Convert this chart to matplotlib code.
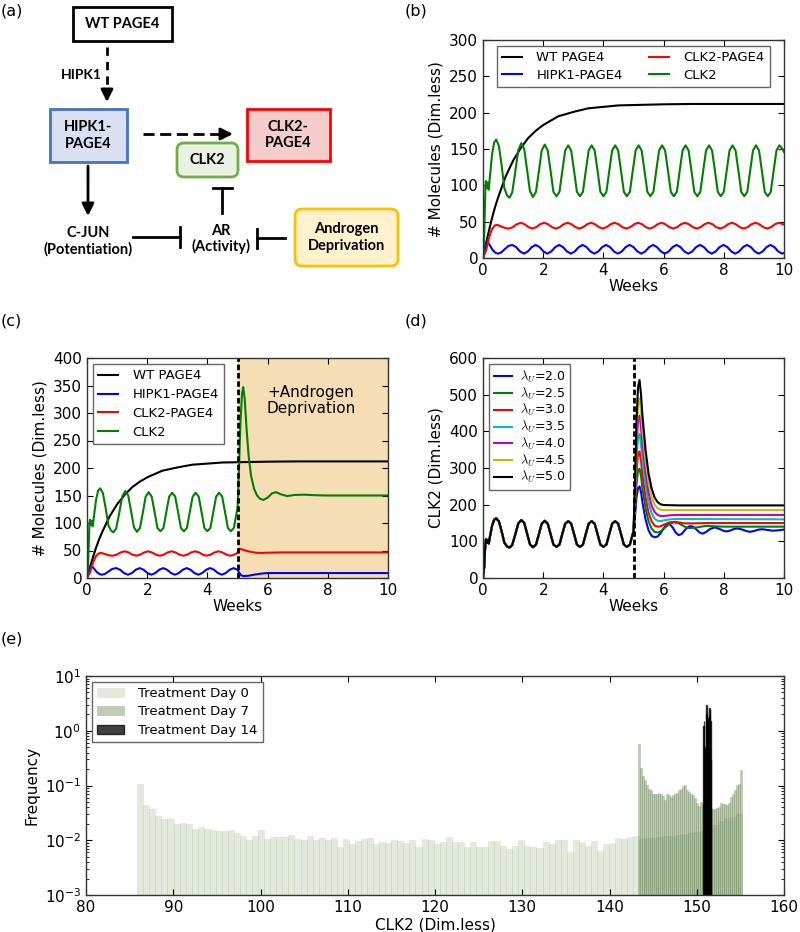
import numpy as np
import matplotlib
matplotlib.use("Agg")
import matplotlib.pyplot as plt
from matplotlib.patches import Rectangle, FancyBboxPatch

# ---------------- time courses (weeks) ----------------
# 0-5 weeks, before treatment (same run in b, c, d)
t_wt_pre = [0, 0.1, 0.2, 0.3, 0.4, 0.5, 0.75, 1.0, 1.25, 1.5, 1.75, 2.0, 2.5, 3.0, 3.5, 4.0, 4.5, 5.0]
wt_pre = [0, 20, 38, 55, 70, 83, 112, 134, 151, 165, 175, 183, 195, 201, 206, 208, 210, 210.5]

t_hipk1_pre = [0, 0.05, 0.1, 0.14, 0.22, 0.32, 0.42, 0.5, 0.6, 0.72, 0.84, 0.97,
               1.10, 1.23, 1.36, 1.49, 1.62, 1.75, 1.88, 2.01, 2.14, 2.27, 2.40, 2.53,
               2.66, 2.79, 2.92, 3.05, 3.18, 3.31, 3.44, 3.57, 3.70, 3.83, 3.96, 4.09,
               4.22, 4.35, 4.48, 4.61, 4.74, 4.87, 5.0]
hipk1_pre = [0, 13, 21, 23, 18, 11, 7, 6, 7.5, 12, 16.5, 18,
             15, 9, 6, 9, 15, 18, 15, 9, 6, 9, 15, 18,
             15, 9, 6, 9, 15, 18, 15, 9, 6, 9, 15, 18,
             15, 9, 6, 9, 15, 18, 15]

t_cp_pre = [0, 0.1, 0.2, 0.3, 0.4, 0.48, 0.6, 0.75, 0.86, 0.99, 1.12,
            1.25, 1.38, 1.51, 1.64, 1.77, 1.90, 2.03, 2.16, 2.29, 2.42, 2.55, 2.68,
            2.81, 2.94, 3.07, 3.20, 3.33, 3.46, 3.59, 3.72, 3.85, 3.98, 4.11, 4.24,
            4.37, 4.50, 4.63, 4.76, 4.89, 5.0]
cp_pre = [0, 10, 28, 40, 45, 45.5, 43.5, 41, 40.5, 42.5, 46.5,
          48.5, 46.5, 42.5, 40.5, 42.5, 46.5, 48.5, 46.5, 42.5, 40.5, 42.5, 46.5,
          48.5, 46.5, 42.5, 40.5, 42.5, 46.5, 48.5, 46.5, 42.5, 40.5, 42.5, 46.5,
          48.5, 46.5, 42.5, 40.5, 42.5, 45.5]

t_clk2_pre = [0, 0.04, 0.08, 0.1, 0.13, 0.16, 0.19, 0.23, 0.3, 0.37, 0.44, 0.53, 0.62, 0.71, 0.8, 0.88, 0.97, 1.07, 1.17,
              1.27, 1.37, 1.465, 1.56, 1.66, 1.76, 1.855, 1.95,
              2.05, 2.15, 2.245, 2.34, 2.44, 2.54, 2.635, 2.73,
              2.83, 2.93, 3.025, 3.12, 3.22, 3.32, 3.415, 3.51,
              3.61, 3.71, 3.805, 3.90, 4.00, 4.10, 4.195, 4.29,
              4.39, 4.49, 4.585, 4.68, 4.78, 4.88, 4.975, 5.0]
clk2_pre = [0, 30, 98, 106, 96, 104, 94, 112, 142, 159, 163, 154, 127, 96, 86, 83, 90, 118, 148,
            158, 150, 121, 92, 84, 91, 119, 148,
            156, 148, 120, 91, 85, 91, 120, 148,
            155, 148, 120, 91, 85, 91, 120, 148,
            155, 148, 120, 91, 85, 91, 120, 148,
            155, 148, 120, 91, 85, 91, 120, 127]

# 5-10 weeks, no treatment (b)
t_wt_b = [6, 7, 10]
wt_b = [211.5, 212, 212]
t_hipk1_b = [5.13, 5.26, 5.39, 5.52, 5.65, 5.78, 5.91, 6.04, 6.17, 6.30, 6.43, 6.56, 6.69,
             6.82, 6.95, 7.08, 7.21, 7.34, 7.47, 7.60, 7.73, 7.86, 7.99, 8.12, 8.25, 8.38,
             8.51, 8.64, 8.77, 8.90, 9.03, 9.16, 9.29, 9.42, 9.55, 9.68, 9.81, 9.94, 10.0]
hipk1_b = [9, 6, 9, 15, 18, 15, 9, 6, 9, 15, 18, 15, 9,
           6, 9, 15, 18, 15, 9, 6, 9, 15, 18, 15, 9, 6,
           9, 15, 18, 15, 9, 6, 9, 15, 18, 15, 9, 6, 7]
t_cp_b = [5.02, 5.15, 5.28, 5.41, 5.54, 5.67, 5.80, 5.93, 6.06, 6.19, 6.32, 6.45, 6.58, 6.71,
          6.84, 6.97, 7.10, 7.23, 7.36, 7.49, 7.62, 7.75, 7.88, 8.01, 8.14, 8.27, 8.40, 8.53,
          8.66, 8.79, 8.92, 9.05, 9.18, 9.31, 9.44, 9.57, 9.70, 9.83, 9.96, 10.0]
cp_b = [46.5, 48.5, 46.5, 42.5, 40.5, 42.5, 46.5, 48.5, 46.5, 42.5, 40.5, 42.5, 46.5, 48.5,
        46.5, 42.5, 40.5, 42.5, 46.5, 48.5, 46.5, 42.5, 40.5, 42.5, 46.5, 48.5, 46.5, 42.5,
        40.5, 42.5, 46.5, 48.5, 46.5, 42.5, 40.5, 42.5, 46.5, 48.5, 46.5, 46]
t_clk2_b = [5.07, 5.17, 5.27, 5.365, 5.46, 5.56, 5.66, 5.755, 5.85,
            5.95, 6.05, 6.145, 6.24, 6.34, 6.44, 6.535, 6.63,
            6.73, 6.83, 6.925, 7.02, 7.12, 7.22, 7.315, 7.41,
            7.51, 7.61, 7.705, 7.80, 7.90, 8.00, 8.095, 8.19,
            8.29, 8.39, 8.485, 8.58, 8.68, 8.78, 8.875, 8.97,
            9.07, 9.17, 9.265, 9.36, 9.46, 9.56, 9.655, 9.75,
            9.85, 9.95, 10.0]
clk2_b = [148, 155, 148, 120, 91, 85, 91, 120, 148,
          155, 148, 120, 91, 85, 91, 120, 148,
          155, 148, 120, 91, 85, 91, 120, 148,
          155, 148, 120, 91, 85, 91, 120, 148,
          155, 148, 120, 91, 85, 91, 120, 148,
          155, 148, 120, 91, 85, 91, 120, 148,
          155, 150, 146]

# 5-10 weeks, androgen deprivation (c)
t_hipk1_c = [5.05, 5.12, 5.2, 5.35, 5.55, 5.8, 6.0, 6.5, 10.0]
hipk1_c = [10, 5, 3.5, 4, 6, 8, 9, 9, 9]
t_cp_c = [5.08, 5.2, 5.4, 5.6, 5.8, 6.0, 6.5, 10.0]
cp_c = [53, 51, 48, 46, 45.5, 46, 46.5, 46.5]
t_clk2_c = [5.05, 5.1, 5.15, 5.19, 5.24, 5.3, 5.37, 5.45, 5.55, 5.65, 5.75, 5.86,
            6.0, 6.15, 6.28, 6.45, 6.65, 6.9, 7.2, 7.6, 8.0, 10.0]
clk2_c = [200, 285, 335, 347, 325, 272, 222, 186, 162, 150, 144, 142,
          146, 154, 156, 152, 149, 151, 151.5, 150.5, 150, 150]

# CLK2 after deprivation for several lambda_U (d)
lam_labels = ['2.0', '2.5', '3.0', '3.5', '4.0', '4.5', '5.0']
lam_colors = ['b', 'g', 'r', 'c', 'm', 'y', 'k']
t_lam_early = [5.05, 5.1, 5.15, 5.2, 5.25, 5.3, 5.4, 5.5, 5.6, 5.7, 5.8, 5.9, 6.0]
lam_early = [
    [170, 220, 245, 250, 235, 205, 160, 130, 115, 111, 113, 122, 135],
    [185, 255, 292, 298, 278, 243, 190, 155, 135, 126, 124, 127, 134],
    [200, 290, 337, 345, 320, 280, 220, 178, 155, 143, 140, 141, 145],
    [215, 325, 382, 393, 365, 320, 255, 205, 177, 162, 156, 155, 157],
    [230, 360, 430, 443, 410, 360, 290, 232, 198, 180, 172, 169, 169],
    [245, 395, 475, 490, 455, 400, 320, 260, 222, 200, 190, 186, 185],
    [260, 430, 520, 540, 500, 440, 350, 285, 245, 220, 207, 201, 199],
]
t_lam_tail = [
    [6.1, 6.2, 6.3, 6.4, 6.5, 6.6, 6.72, 6.85, 6.95, 7.08, 7.2, 7.3, 7.42, 7.55, 7.7, 7.85,
     7.98, 8.08, 8.2, 8.35, 8.47, 8.62, 8.75, 8.86, 9.0, 9.15, 9.28, 9.45, 9.63, 9.8, 10.0],
    [6.2, 6.35, 6.5, 6.7, 6.85, 7.1, 7.4, 7.7, 8.0, 10.0],
    [6.2, 6.4, 6.7, 7.0, 7.5, 10.0],
    [6.2, 6.5, 10.0],
    [6.2, 6.5, 10.0],
    [6.5, 10.0],
    [6.5, 10.0],
]
lam_tail = [
    [146, 147, 138, 124, 117, 120, 132, 141, 141, 133, 124, 121, 126, 134, 138, 134,
     129, 127, 129, 134, 135, 132, 128, 126, 128, 132, 133, 131, 129, 130, 132],
    [148, 152, 149, 140, 136, 138, 142, 141, 140, 140],
    [152, 153, 149, 149, 150, 150],
    [160, 161, 160],
    [171, 172, 172],
    [185, 185],
    [198, 198],
]

# ---------------- CLK2 histograms (e) ----------------
day0_range = (85.87, 155.2)
day0_freq = [0.105, 0.044, 0.037, 0.028, 0.0245, 0.024, 0.020, 0.021, 0.020, 0.0163,
             0.0176, 0.0163, 0.0157, 0.0146, 0.0146, 0.0157, 0.0133, 0.012, 0.010, 0.0119,
             0.0152, 0.0104, 0.0114, 0.0115, 0.0115, 0.0127, 0.0107, 0.0103, 0.0118, 0.0103,
             0.0112, 0.010, 0.0112, 0.0076, 0.0107, 0.0087, 0.0096, 0.0107, 0.0112, 0.0085,
             0.0093, 0.0089, 0.0103, 0.0096, 0.0089, 0.010, 0.0074, 0.0107, 0.010, 0.0087,
             0.0093, 0.0115, 0.0093, 0.0093, 0.0074, 0.0093, 0.0076, 0.0076, 0.0096, 0.0096,
             0.0078, 0.0068, 0.008, 0.010, 0.0078, 0.0076, 0.0071, 0.0093, 0.0087, 0.010,
             0.0103, 0.0062, 0.010, 0.0093, 0.0078, 0.0096, 0.0064, 0.0085, 0.0089, 0.0112,
             0.0107, 0.0115, 0.012, 0.0105, 0.011, 0.011, 0.0115, 0.012, 0.012, 0.0125,
             0.013, 0.0135, 0.014, 0.015, 0.017, 0.019, 0.022, 0.025, 0.027, 0.03]
day7_range = (143.3, 155.2)
day7_freq = [0.57, 0.205, 0.148, 0.125, 0.10, 0.088, 0.082, 0.071, 0.069, 0.069,
             0.073, 0.071, 0.064, 0.054, 0.069, 0.067, 0.062, 0.067, 0.069, 0.073,
             0.082, 0.088, 0.097, 0.10, 0.082, 0.077, 0.071, 0.067, 0.058, 0.048,
             0.042, 0.05, 0.045, 0.044, 0.042, 0.040, 0.039, 0.038, 0.038, 0.039,
             0.041, 0.048, 0.046, 0.046, 0.044, 0.047, 0.062, 0.071, 0.082, 0.10,
             0.106, 0.19]
day14_range = (150.75, 151.65)
day14_freq = [1.2, 1.5, 0.5, 0.4, 0.45, 2.0, 3.0, 2.2, 1.7, 1.6, 1.9, 2.6, 2.4, 1.5, 0.3]

plt.rcParams.update({
    'font.family': ['DejaVu Sans'],
    'font.size': 11,
    'mathtext.fontset': 'cm',
    'legend.fontsize': 9.5,
    'axes.linewidth': 1.0,
    'axes.edgecolor': '0.2',
})

fig = plt.figure(figsize=(8, 9.32), dpi=100)
W, H = 800.0, 932.0


def style_axes(ax):
    ax.tick_params(which='both', direction='in', top=True, right=True)
    ax.tick_params(which='major', length=4)
    ax.tick_params(which='minor', length=2)


# ---------------- (a) diagram ----------------
ax_a = fig.add_axes([0, 1 - 300 / H, 400 / W, 300 / H])
ax_a.set_xlim(0, 400)
ax_a.set_ylim(300, 0)
ax_a.axis('off')

boxes = [
    (73, 7, 172, 41, 'black', 'white', False, 'WT PAGE4'),
    (50, 109, 127, 162, '#4472C4', '#DAE0F2', False, 'HIPK1-\nPAGE4'),
    (247, 109, 330, 161, '#FF0000', '#F4CCCC', False, 'CLK2-\nPAGE4'),
    (177, 143, 238, 177, '#70AD47', '#EBF1E2', True, 'CLK2'),
    (295, 209, 398, 266, '#FFC000', '#FFF2CC', True, 'Androgen\nDeprivation'),
]
dfont = dict(family=['Lato', 'DejaVu Sans'], fontweight='bold', fontsize=10.5)
for x0, y0, x1, y1, ec, fc, rounded, txt in boxes:
    if rounded:
        p = FancyBboxPatch((x0, y0), x1 - x0, y1 - y0, boxstyle='round,pad=0,rounding_size=7',
                           ec=ec, fc=fc, lw=2)
    else:
        p = Rectangle((x0, y0), x1 - x0, y1 - y0, ec=ec, fc=fc, lw=2)
    ax_a.add_patch(p)
    ax_a.text((x0 + x1) / 2, (y0 + y1) / 2, txt, ha='center', va='center', linespacing=1.2, **dfont)

ax_a.text(81, 75, 'HIPK1', ha='center', va='center', **dict(dfont, fontsize=10))
ax_a.text(88, 241, 'C-JUN\n(Potentiation)', ha='center', va='center', linespacing=1.15, **dfont)
ax_a.text(221, 239, 'AR\n(Activity)', ha='center', va='center', linespacing=1.15, **dfont)

head = dict(arrowstyle='-|>,head_length=0.4,head_width=0.2', color='k', lw=2,
            shrinkA=0, shrinkB=0, mutation_scale=18)
# dashed arrows
ax_a.plot([107, 107], [47, 94], color='k', lw=2, dashes=(3, 2.2))
ax_a.annotate('', xy=(107, 102), xytext=(107, 94), arrowprops=head)
ax_a.plot([143, 226], [134, 134], color='k', lw=2, dashes=(4, 2))
ax_a.annotate('', xy=(233, 134), xytext=(226, 134), arrowprops=head)
# solid arrow
ax_a.annotate('', xy=(88, 216), xytext=(88, 166), arrowprops=head)
# inhibitions
ax_a.plot([222, 222], [213, 188], color='k', lw=2)
ax_a.plot([213, 232], [188, 188], color='k', lw=2)
ax_a.plot([133, 180], [237, 237], color='k', lw=2)
ax_a.plot([180, 180], [227, 247], color='k', lw=2)
ax_a.plot([285, 257], [238, 238], color='k', lw=2)
ax_a.plot([257, 257], [229, 248], color='k', lw=2)

# ---------------- (b) ----------------
ax_b = fig.add_axes([483 / W, 1 - 258 / H, 301 / W, 218 / H])
ax_b.plot(t_wt_pre + t_wt_b, wt_pre + wt_b, color='k', lw=1.5, label='WT PAGE4')
ax_b.plot(t_hipk1_pre + t_hipk1_b, hipk1_pre + hipk1_b, color='b', lw=1.5, label='HIPK1-PAGE4')
ax_b.plot(t_cp_pre + t_cp_b, cp_pre + cp_b, color='r', lw=1.5, label='CLK2-PAGE4')
ax_b.plot(t_clk2_pre + t_clk2_b, clk2_pre + clk2_b, color='g', lw=1.5, label='CLK2')
ax_b.set_xlim(0, 10)
ax_b.set_ylim(0, 300)
ax_b.set_xticks(range(0, 11, 2))
ax_b.set_yticks(range(0, 301, 50))
ax_b.set_xlabel('Weeks', labelpad=1)
ax_b.set_ylabel('# Molecules (Dim.less)')
ax_b.legend(loc='upper center', ncol=2, fancybox=False, framealpha=1, edgecolor='0.4',
            handlelength=1.5, handletextpad=1.1, columnspacing=2.0, labelspacing=0.35,
            borderaxespad=0.45)
style_axes(ax_b)

# ---------------- (c) ----------------
ax_c = fig.add_axes([87 / W, 1 - 578 / H, 301 / W, 220 / H])
ax_c.axvspan(5, 10, color='wheat', lw=0)
ax_c.plot(t_wt_pre + t_wt_b, wt_pre + wt_b, color='k', lw=1.5, label='WT PAGE4')
ax_c.plot(t_hipk1_pre + t_hipk1_c, hipk1_pre + hipk1_c, color='b', lw=1.5, label='HIPK1-PAGE4')
ax_c.plot(t_cp_pre + t_cp_c, cp_pre + cp_c, color='r', lw=1.5, label='CLK2-PAGE4')
ax_c.plot(t_clk2_pre + t_clk2_c, clk2_pre + clk2_c, color='g', lw=1.5, label='CLK2')
ax_c.axvline(5, color='k', lw=2, dashes=(2, 1))
ax_c.text(7.45, 323, '+Androgen\nDeprivation', ha='center', va='center', fontsize=11, linespacing=1.05)
ax_c.set_xlim(0, 10)
ax_c.set_ylim(0, 400)
ax_c.set_xticks(range(0, 11, 2))
ax_c.set_yticks(range(0, 401, 50))
ax_c.set_xlabel('Weeks', labelpad=1)
ax_c.set_ylabel('# Molecules (Dim.less)')
ax_c.legend(loc='upper left', fancybox=False, framealpha=1, edgecolor='0.4',
            handlelength=1.5, handletextpad=1.1, labelspacing=0.45, borderaxespad=0.45)
style_axes(ax_c)

# ---------------- (d) ----------------
ax_d = fig.add_axes([483 / W, 1 - 578 / H, 301 / W, 220 / H])
for lab, col, early, tt, tv in zip(lam_labels, lam_colors, lam_early, t_lam_tail, lam_tail):
    ax_d.plot(t_clk2_pre + t_lam_early + tt, clk2_pre + early + tv, color=col, lw=1.5,
              label=r'$\lambda_U$=' + lab)
ax_d.axvline(5, color='k', lw=2, dashes=(2, 1))
ax_d.set_xlim(0, 10)
ax_d.set_ylim(0, 600)
ax_d.set_xticks(range(0, 11, 2))
ax_d.set_yticks(range(0, 601, 100))
ax_d.set_xlabel('Weeks', labelpad=1)
ax_d.set_ylabel('CLK2 (Dim.less)')
ax_d.legend(loc='upper left', fancybox=False, framealpha=1, edgecolor='0.4', fontsize=9,
            handlelength=1.5, handletextpad=0.6, labelspacing=0.05, borderaxespad=0.45)
style_axes(ax_d)

# ---------------- (e) ----------------
ax_e = fig.add_axes([86 / W, 1 - 895 / H, 698 / W, 219 / H])
ax_e.set_yscale('log')
hists = [
    (day0_range, day0_freq, '#afc19d', 0.35, 0.4, 'Treatment Day 0'),
    (day7_range, day7_freq, '#5f7d4b', 0.4, 0.4, 'Treatment Day 7'),
    (day14_range, day14_freq, 'black', 0.75, 1.0, 'Treatment Day 14'),
]
for rng, freq, col, al, elw, lab in hists:
    edges = np.linspace(rng[0], rng[1], len(freq) + 1)
    ax_e.bar(edges[:-1], freq, width=np.diff(edges), align='edge', bottom=1e-5,
             color=col, alpha=al, edgecolor=col, lw=elw, label=lab)
ax_e.set_xlim(80, 160)
ax_e.set_ylim(1e-3, 1e1)
ax_e.set_xlabel('CLK2 (Dim.less)', labelpad=2)
ax_e.set_ylabel('Frequency')
ax_e.legend(loc='upper left', fancybox=False, framealpha=1, edgecolor='0.4',
            handletextpad=1.1, labelspacing=0.4, borderaxespad=0.45)
style_axes(ax_e)

# panel letters
for x, y, s in [(1, 3, '(a)'), (405, 3, '(b)'), (1, 314, '(c)'), (405, 314, '(d)'), (1, 631, '(e)')]:
    fig.text(x / W, 1 - y / H, s, ha='left', va='top', fontsize=11.5)

fig.savefig('out.png', dpi=100)
plt.close('all')
